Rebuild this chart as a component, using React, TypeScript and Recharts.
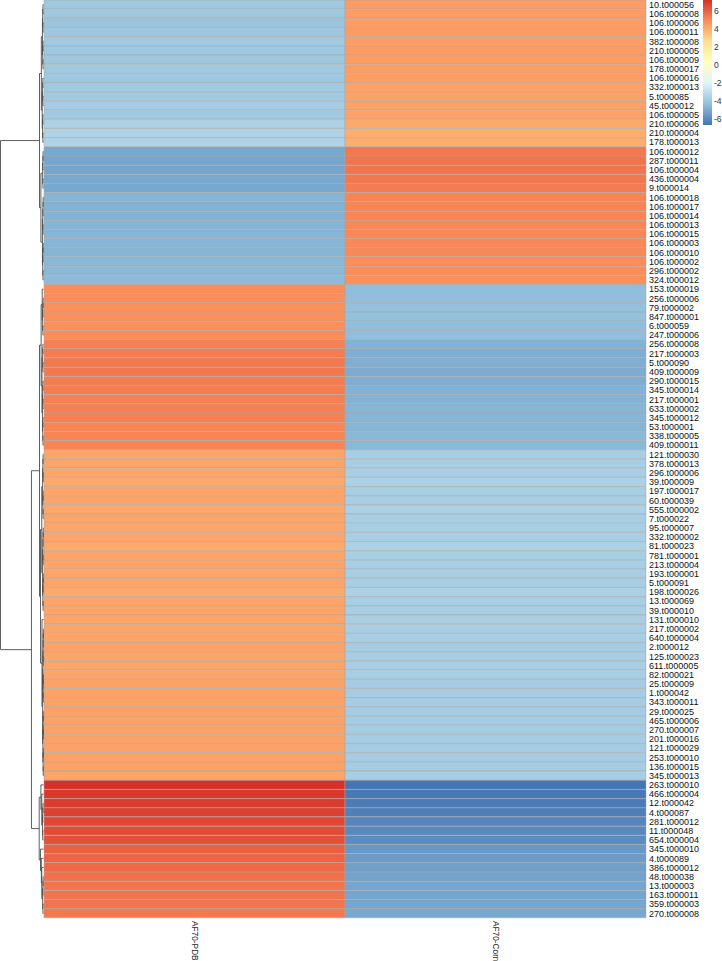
import React from "react";
import { BarChart, Bar, XAxis, YAxis, Cell } from "recharts";

const rowLabels = [
  "10.t000056", "106.t000008", "106.t000006", "106.t000011", "382.t000008", "210.t000005", "106.t000009", "178.t000017",
  "106.t000016", "332.t000013", "5.t000085", "45.t000012", "106.t000005", "210.t000006", "210.t000004", "178.t000013",
  "106.t000012", "287.t000011", "106.t000004", "436.t000004", "9.t000014", "106.t000018", "106.t000017", "106.t000014",
  "106.t000013", "106.t000015", "106.t000003", "106.t000010", "106.t000002", "296.t000002", "324.t000012", "153.t000019",
  "256.t000006", "79.t000002", "847.t000001", "6.t000059", "247.t000006", "256.t000008", "217.t000003", "5.t000090",
  "409.t000009", "290.t000015", "345.t000014", "217.t000001", "633.t000002", "345.t000012", "53.t000001", "338.t000005",
  "409.t000011", "121.t000030", "378.t000013", "296.t000006", "39.t000009", "197.t000017", "60.t000039", "555.t000002",
  "7.t000022", "95.t000007", "332.t000002", "81.t000023", "781.t000001", "213.t000004", "193.t000001", "5.t000091",
  "198.t000026", "13.t000069", "39.t000010", "131.t000010", "217.t000002", "640.t000004", "2.t000012", "125.t000023",
  "611.t000005", "82.t000021", "25.t000009", "1.t000042", "343.t000011", "29.t000025", "465.t000006", "270.t000007",
  "201.t000016", "121.t000029", "253.t000010", "136.t000015", "345.t000013", "263.t000010", "466.t000004", "12.t000042",
  "4.t000087", "281.t000012", "11.t000048", "654.t000004", "345.t000010", "4.t000089", "386.t000012", "48.t000038",
  "13.t000003", "163.t000011", "359.t000003", "270.t000008",
];

const columnLabels = ["AF70-PDB", "AF70-Com"];

const pdbValues = [
  -4.0, -4.0, -4.1, -4.0, -3.9, -4.0, -4.0, -3.9, -4.0, -3.9, -3.9, -3.8, -3.9, -3.6, -3.5, -3.5,
  -5.1, -5.2, -5.2, -5.1, -5.1,
  -4.7, -4.8, -4.8, -4.7, -4.7, -4.7, -4.7, -4.6, -4.6, -4.5,
  4.9, 4.9, 4.8, 4.8, 4.8, 4.9,
  5.2, 5.3, 5.4, 5.4, 5.3, 5.3, 5.2, 5.2, 5.2, 5.1, 5.1, 5.1,
  4.2, 4.2, 4.2, 4.1, 4.2, 4.2, 4.1, 4.2, 4.2, 4.2, 4.1, 4.2, 4.2, 4.2, 4.2, 4.1, 4.2, 4.2,
  4.2, 4.2, 4.2, 4.3, 4.2, 4.2, 4.2, 4.3, 4.3, 4.3, 4.3, 4.3, 4.3, 4.3, 4.3, 4.3, 4.3, 4.2,
  7.2, 7.0, 6.9, 6.8, 6.6, 6.5, 6.4,
  6.0, 5.9, 5.8, 5.6, 5.5, 5.5, 5.5, 5.4,
];

const comValues = [
  4.5, 4.5, 4.4, 4.5, 4.4, 4.5, 4.4, 4.4, 4.4, 4.3, 4.3, 4.3, 4.3, 4.1, 4.0, 4.0,
  5.4, 5.5, 5.5, 5.4, 5.3,
  5.1, 5.1, 5.1, 5.0, 5.0, 5.0, 5.0, 4.9, 4.9, 4.8,
  -4.4, -4.4, -4.3, -4.3, -4.4, -4.4,
  -4.8, -4.9, -4.9, -5.0, -4.9, -4.8, -4.8, -4.7, -4.7, -4.7, -4.6, -4.6,
  -3.7, -3.7, -3.7, -3.6, -3.7, -3.7, -3.6, -3.7, -3.7, -3.7, -3.6, -3.7, -3.7, -3.7, -3.7, -3.6, -3.7, -3.7,
  -3.7, -3.7, -3.7, -3.8, -3.7, -3.7, -3.7, -3.8, -3.8, -3.8, -3.8, -3.8, -3.8, -3.8, -3.8, -3.8, -3.8, -3.7,
  -6.7, -6.6, -6.5, -6.4, -6.2, -6.1, -6.0,
  -5.6, -5.5, -5.4, -5.3, -5.2, -5.2, -5.2, -5.1,
];

const legendTicks = [6, 4, 2, 0, -2, -4, -6];

// rev(RdYlBu 7), low -> high
const palette = ["#4575B4", "#91BFDB", "#E0F3F8", "#FFFFBF", "#FEE090", "#FC8D59", "#D73027"];
const colorMin = -6.7;
const colorMax = 7.2;

// row dendrogram: leaves are row indexes, "span" = tight group of rows merged at one height
type Tree = number | { h: number; l: Tree; r: Tree } | { span: [number, number]; h: number };
const rowTree: Tree = {
  h: 1,
  l: {
    h: 0.093,
    l: { h: 0.05, l: { span: [0, 7], h: 0.025 }, r: { span: [8, 15], h: 0.03 } },
    r: { h: 0.06, l: { span: [16, 20], h: 0.02 }, r: { span: [21, 30], h: 0.025 } },
  },
  r: {
    h: 0.28,
    l: {
      h: 0.093,
      l: {
        h: 0.055,
        l: { h: 0.03, l: 31, r: { span: [32, 36], h: 0.02 } },
        r: { h: 0.035, l: { span: [37, 40], h: 0.02 }, r: { span: [41, 48], h: 0.025 } },
      },
      r: {
        h: 0.07,
        l: { h: 0.04, l: { span: [49, 56], h: 0.02 }, r: { span: [57, 66], h: 0.02 } },
        r: { h: 0.035, l: 67, r: { span: [68, 84], h: 0.02 } },
      },
    },
    r: {
      h: 0.1,
      l: { h: 0.06, l: 85, r: { h: 0.04, l: 86, r: { span: [87, 91], h: 0.025 } } },
      r: {
        h: 0.07,
        l: 92,
        r: { h: 0.05, l: 93, r: { h: 0.04, l: 94, r: { span: [95, 99], h: 0.02 } } },
      },
    },
  },
};

const W = 722;
const H = 961;
const M = { top: 0, right: 18, bottom: 0, left: 44 };
const AXIS_H = 43;
const LABEL_W = 58;
const PLOT_H = H - M.top - M.bottom - AXIS_H;
const ROW_H = PLOT_H / rowLabels.length;
const FONT = "'Liberation Sans', Arial, Helvetica, sans-serif";

function hexToRgb(h: string) {
  return [1, 3, 5].map((i) => parseInt(h.slice(i, i + 2), 16));
}

function valueColor(v: number) {
  const t = Math.min(1, Math.max(0, (v - colorMin) / (colorMax - colorMin))) * (palette.length - 1);
  const i = Math.min(palette.length - 2, Math.floor(t));
  const f = t - i;
  const a = hexToRgb(palette[i]);
  const b = hexToRgb(palette[i + 1]);
  const c = a.map((x, k) => Math.round(x + (b[k] - x) * f));
  return `rgb(${c[0]},${c[1]},${c[2]})`;
}

const tableData = rowLabels.map((name, i) => ({ name, pdb: 1, com: 1, pdbValue: pdbValues[i], comValue: comValues[i] }));

function expand(t: Tree): Tree {
  if (typeof t === "number") return t;
  if ("span" in t) {
    const [a, b] = t.span;
    if (a === b) return a;
    const m = Math.floor((a + b) / 2);
    return { h: t.h, l: expand({ span: [a, m], h: t.h * 0.7 }), r: expand({ span: [m + 1, b], h: t.h * 0.7 }) };
  }
  return { h: t.h, l: expand(t.l), r: expand(t.r) };
}

function Dendrogram() {
  const rowY = (i: number) => M.top + (i + 0.5) * ROW_H;
  const hx = (h: number) => M.left - 0.5 - h * (M.left - 1);
  const lines: React.ReactNode[] = [];
  const walk = (t: Tree): { y: number; h: number } => {
    if (typeof t === "number") return { y: rowY(t), h: 0 };
    const node = t as { h: number; l: Tree; r: Tree };
    const a = walk(node.l);
    const b = walk(node.r);
    const x = hx(node.h);
    lines.push(<line key={lines.length} x1={x} x2={x} y1={a.y} y2={b.y} />);
    lines.push(<line key={lines.length} x1={x} x2={hx(a.h)} y1={a.y} y2={a.y} />);
    lines.push(<line key={lines.length} x1={x} x2={hx(b.h)} y1={b.y} y2={b.y} />);
    return { y: (a.y + b.y) / 2, h: node.h };
  };
  walk(expand(rowTree));
  return (
    <g stroke="#4d4d4d" strokeWidth={0.9} fill="none">
      {lines}
    </g>
  );
}

function ColorBar() {
  const x = 703;
  const top = 0;
  const h = 125;
  const y = (v: number) => top + ((colorMax - v) / (colorMax - colorMin)) * h;
  return (
    <g>
      <defs>
        <linearGradient id="cbar" x1="0" y1="0" x2="0" y2="1">
          {palette
            .slice()
            .reverse()
            .map((c, i) => (
              <stop key={c} offset={i / (palette.length - 1)} stopColor={c} />
            ))}
        </linearGradient>
      </defs>
      <rect x={x} y={top} width={9} height={h} fill="url(#cbar)" />
      {legendTicks.map((t) => (
        <text key={t} x={714} y={y(t)} dy="0.35em" fontSize={8.5} fill="#333" fontFamily={FONT}>
          {t}
        </text>
      ))}
    </g>
  );
}

function ColumnTick(props: any) {
  const { x, payload } = props;
  const idx = Math.floor(payload.value);
  const top = M.top + PLOT_H + 3;
  return (
    <text
      transform={`translate(${x - 3},${top}) rotate(90)`}
      fontSize={8.3}
      fill="#222"
      fontFamily={FONT}
      textAnchor="start"
    >
      {columnLabels[idx]}
    </text>
  );
}

export default function App() {
  return (
    <div style={{ position: "absolute", left: 0, top: 0, width: W, height: H, background: "#fff" }}>
      <BarChart
        width={W}
        height={H}
        data={tableData}
        layout="vertical"
        margin={M}
        barCategoryGap={0}
        barGap={0}
      >
        <XAxis
          type="number"
          domain={[0, 2]}
          ticks={[0.5, 1.5]}
          axisLine={false}
          tickLine={false}
          height={AXIS_H}
          tick={<ColumnTick />}
          interval={0}
        />
        <YAxis
          type="category"
          dataKey="name"
          orientation="right"
          width={LABEL_W}
          axisLine={false}
          tickLine={false}
          tickSize={0}
          tickMargin={3}
          interval={0}
          tick={{ fontSize: 9, fill: "#111", fontFamily: FONT, textAnchor: "start" }}
        />
        <Bar dataKey="pdb" stackId="h" isAnimationActive={false}>
          {tableData.map((d) => (
            <Cell key={d.name} fill={valueColor(d.pdbValue)} stroke="#a6a6a6" strokeWidth={0.5} />
          ))}
        </Bar>
        <Bar dataKey="com" stackId="h" isAnimationActive={false}>
          {tableData.map((d) => (
            <Cell key={d.name} fill={valueColor(d.comValue)} stroke="#a6a6a6" strokeWidth={0.5} />
          ))}
        </Bar>
      </BarChart>
      <svg width={W} height={H} style={{ position: "absolute", left: 0, top: 0, pointerEvents: "none" }}>
        <Dendrogram />
        <ColorBar />
      </svg>
    </div>
  );
}
